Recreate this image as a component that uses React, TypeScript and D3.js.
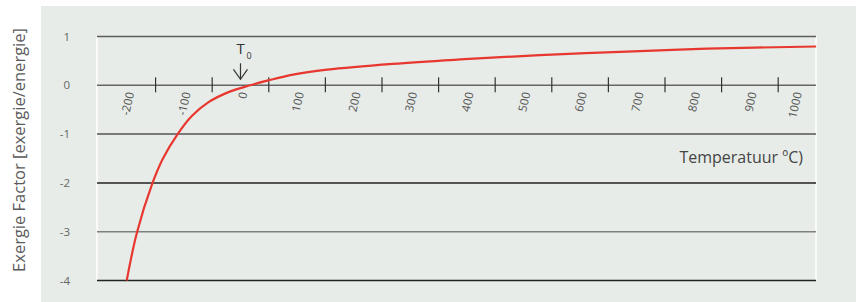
import React from "react";
import * as d3 from "d3";

const temps = [-201, -183, -156, -137, -111, -86, -57, -19, 17, 49, 93, 153, 269, 388, 529, 706, 824, 1017];
const factors = [-4, -3.02, -2.02, -1.5, -1.0, -0.63, -0.35, -0.13, 0, 0.1, 0.22, 0.32, 0.44, 0.53, 0.62, 0.7, 0.75, 0.795];
const xTickLabels = [-200, -100, 0, 100, 200, 300, 400, 500, 600, 700, 800, 900, 1000];
const xTickMarks = [-150, -50, 50, 150, 250, 350, 450, 550, 650, 750, 850, 950];
const yTicks = [1, 0, -1, -2, -3, -4];
const gridColors = ["#5e5e5e", "#666666", "#555555", "#222222", "#808080", "#222222"];
const T0 = 0;

const W = 856;
const H = 302;
const left = 97;
const right = 816;
const top = 36.5;
const bottom = 280.5;

export default function App() {
  const x = d3.scaleLinear().domain([-253.5, 1016.8]).range([left, right]);
  const y = d3.scaleLinear().domain([-4, 1]).range([bottom, top]);
  const line = d3
    .line<number>()
    .x((_, i) => x(temps[i]))
    .y((d) => y(d))
    .curve(d3.curveCatmullRom.alpha(0.5));
  const font = "'Open Sans', 'DejaVu Sans', sans-serif";
  const y0 = y(0);
  const ax = x(T0);
  return (
    <svg width={W} height={H} style={{ position: "absolute", left: 0, top: 0 }} fontFamily={font}>
      <rect x={0} y={0} width={W} height={H} fill="#ffffff" />
      <rect x={41} y={6} width={W - 41} height={H - 6} fill="#e7ece8" />
      <line x1={left} x2={left} y1={top} y2={bottom} stroke="#ffffff" strokeWidth={1.5} />
      <line x1={right} x2={right} y1={top} y2={bottom} stroke="#ffffff" strokeWidth={1.5} />
      {yTicks.map((t, i) => (
        <g key={t}>
          <line x1={left} x2={right} y1={y(t)} y2={y(t)} stroke={gridColors[i]} strokeWidth={1.5} />
          <text x={70} y={y(t) + 4} textAnchor="end" fontSize={11.5} fill="#666">
            {t === 0 ? "0" : t < 0 ? "-" + Math.abs(t) : String(t)}
          </text>
        </g>
      ))}
      {xTickMarks.map((t) => (
        <line key={t} x1={x(t)} x2={x(t)} y1={y0 - 8} y2={y0 + 7} stroke="#333" strokeWidth={1.2} />
      ))}
      {xTickLabels.map((t) => {
        const px = Math.min(x(t) + 3, right - 18);
        return (
          <text
            key={t}
            transform={`translate(${px},${y0 + 7}) rotate(-77)`}
            textAnchor="end"
            fontSize={11.5}
            fill="#555"
            dy="0.35em"
          >
            {String(t)}
          </text>
        );
      })}
      <path d={line(factors) || ""} fill="none" stroke="#e8372f" strokeWidth={2.2} />
      <g stroke="#333" strokeWidth={1.2} fill="none">
        <line x1={ax} x2={ax} y1={y0 - 22} y2={y0 - 6} />
        <polyline points={`${ax - 7},${y0 - 16} ${ax},${y0 - 6} ${ax + 7},${y0 - 16}`} />
      </g>
      <text x={ax - 4} y={y0 - 31} fontSize={15} fill="#333">
        T
      </text>
      <text x={ax + 6} y={y0 - 26} fontSize={9} fill="#333">
        0
      </text>
      <text x={803} y={163} textAnchor="end" fontSize={16} fill="#444">
        Temperatuur ºC)
      </text>
      <text transform={`translate(25,150) rotate(-90)`} textAnchor="middle" fontSize={16.5} fill="#5a5a5a">
        Exergie Factor [exergie/energie]
      </text>
    </svg>
  );
}
